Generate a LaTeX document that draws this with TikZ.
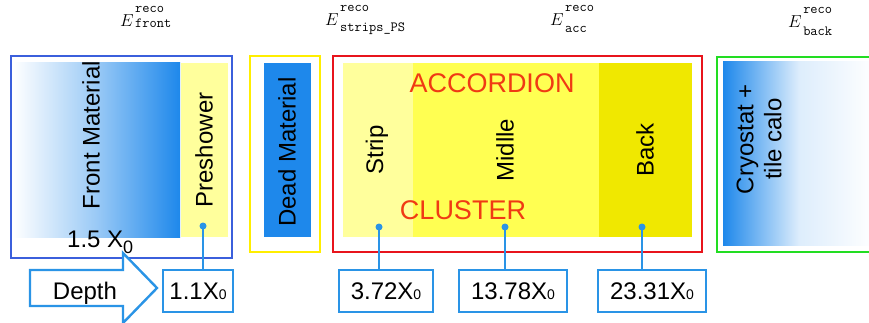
\documentclass[tikz,border=0pt]{standalone}
\usepackage{fontspec}
\setmainfont{Liberation Sans}
\usetikzlibrary{positioning}
\definecolor{frontline}{HTML}{3B5FDC}
\definecolor{deadline}{HTML}{FFEE00}
\definecolor{accline}{HTML}{E8141C}
\definecolor{backline}{HTML}{22DD22}
\definecolor{matblue}{HTML}{1E88EB}
\definecolor{tagblue}{HTML}{2A94E6}
\definecolor{paleyel}{HTML}{FFFF9C}
\definecolor{midyel}{HTML}{FFFF52}
\definecolor{darkyel}{HTML}{F0E800}
\definecolor{accred}{HTML}{F03A14}
\newcommand{\xnought}{X{\fontsize{14}{14}\selectfont 0}}
\newcommand{\ttsmall}{\fontsize{14}{14}\ttfamily}
\newcommand{\erec}[2][3pt]{$E$\kern1.5pt\rlap{\raisebox{14pt}{\ttsmall reco}}\raisebox{-#1}{\ttsmall #2}}

\begin{document}
\begin{tikzpicture}[x=1pt,y=-1pt,
  lab/.style={font=\fontsize{24}{28}\selectfont,inner sep=0pt},
  side/.style={lab,rotate=90},
  erec/.style={font=\fontsize{19}{22}\selectfont,anchor=base west,inner sep=0pt},
  tag/.style={lab,draw=tagblue,line width=2.4pt,minimum height=42pt},
  dot/.style={circle,fill=tagblue,inner sep=0pt,minimum size=7pt}]
\useasboundingbox (0,0) rectangle (869,323);
\fill[left color=white,right color=matblue,middle color=matblue!45] (13,63) rectangle (180,237); \fill[paleyel] (181,63) rectangle (228,237);
\draw[frontline,line width=2pt] (11,56) rectangle (232,258);
\fill[matblue] (264,63) rectangle (311,237); \draw[deadline,line width=2.5pt] (250,56) rectangle (320,252);
\fill[paleyel] (343,63) rectangle (413,237); \fill[midyel] (413,63) rectangle (599,237); \fill[darkyel] (599,63) rectangle (692,237);
\draw[accline,line width=2.5pt] (333,56) rectangle (702,252);
\fill[left color=matblue,right color=white,middle color=matblue!15] (723,62) rectangle (875,245); \draw[backline,line width=2.5pt] (717,57) rectangle (885,252);
\node[erec] (efront) at (120,27) {\erec[1pt]{front}};
\node[erec] (estrip) at (325,26) {\erec[6pt]{strips\_PS}};
\node[erec] (eacc) at (550,26) {\erec[7pt]{acc}};
\node[erec] (eback) at (788,28) {\erec[8pt]{back}};
\node[side] (frontm) at (91,135) {Front Material}; \node[side] (presh) at (204,150) {Preshower};
\node[side] (deadm) at (287,152) {Dead Material};
\node[side] (strip) at (377,150) {Strip}; \node[side] (midl) at (505,150) {Midlle}; \node[side] (back) at (645,150) {Back};
\node[side,align=center] (cryo) at (759,139) {Cryostat +\\tile calo};
\node[lab,font=\fontsize{27}{30}\selectfont,text=accred] (accord) at (492,83) {ACCORDION};
\node[lab,font=\fontsize{27}{30}\selectfont,text=accred] (clust) at (463,210) {CLUSTER};
\node[lab,anchor=base west] (frontx) at (67,247) {1.5 X\raisebox{-6pt}{\fontsize{18}{18}\selectfont 0}};
\draw[tagblue,line width=2.4pt,fill=white] (30,270) -- (123,270) -- (123,253) -- (157,288) -- (123,323) -- (123,306) -- (30,306) -- cycle;
\node[lab,anchor=base] (depth) at (85,299) {Depth};
\node[tag,minimum width=70pt] (t11) at (198,291) {1.1\xnought};
\node[tag,minimum width=94pt] (t372) at (386,291) {3.72\xnought};
\node[tag,minimum width=108pt] (t1378) at (513,291) {13.78\xnought};
\node[tag,minimum width=108pt] (t2331) at (652,291) {23.31\xnought};
\node[dot] (d11) at (203,226) {}; \node[dot] (d372) at (379,227) {}; \node[dot] (d1378) at (505,227) {}; \node[dot] (d2331) at (642,227) {};
\foreach \d/\t in {d11/t11,d372/t372,d1378/t1378,d2331/t2331}
  \draw[tagblue,line width=2.4pt] (\d.center) -- (\d |- \t.north);
\end{tikzpicture}
\end{document}
